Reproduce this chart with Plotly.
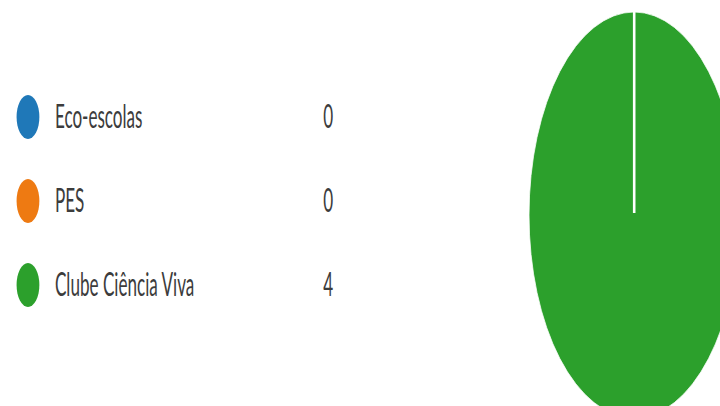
import math
import plotly.graph_objects as go

# ---- data ----
categories = ["Eco-escolas", "PES", "Clube Ciência Viva"]
values = [0, 0, 4]
colors = ["#1f78b8", "#ee7a12", "#2ca02c"]

# The reference is horizontally compressed; build at full width and squeeze.
K = 1.93                 # horizontal stretch factor
W, H = 1440, 430         # layout size before squeezing
CX, CY, R = 1224, 215, 203   # pie centre / radius in layout pixels

fig = go.Figure()

# pie
fig.add_trace(go.Pie(
    labels=categories, values=values, sort=False, direction="clockwise",
    rotation=0, textinfo="none", hoverinfo="label+value+percent",
    marker=dict(colors=colors, line=dict(color="white", width=1)),
    showlegend=False,
    domain=dict(x=[(CX - R) / W, (CX + R) / W],
                y=[1 - (CY + R) / H, 1 - (CY - R) / H]),
))

# slice borders (white radial lines at cumulative slice boundaries),
# drawn above the pie layer
total = sum(values)
bounds = set()
cum = 0
for v in values:
    bounds.add(round(cum / total % 1.0, 9))
    cum += v
shapes = []
for f in sorted(bounds):
    th = 2 * math.pi * f
    shapes.append(dict(
        type="line", xref="x", yref="y2", layer="above",
        x0=CX, y0=CY - 2, x1=CX + (R + 2) * math.sin(th), y1=CY - (R + 2) * math.cos(th),
        line=dict(color="white", width=5),
    ))

# custom legend: markers
fig.add_trace(go.Scatter(
    x=[54] * len(categories), y=categories, mode="markers",
    marker=dict(size=44, color=colors, line=dict(width=0)),
    hoverinfo="skip", showlegend=False, xaxis="x", yaxis="y",
))
# invisible trace to activate y2
fig.add_trace(go.Scatter(x=[None], y=[None], xaxis="x", yaxis="y2",
                         showlegend=False, hoverinfo="skip"))

annotations = []
for c, v in zip(categories, values):
    annotations.append(dict(
        x=104, y=c, xref="x", yref="y", text=c, showarrow=False,
        xanchor="left", yanchor="middle", yshift=2,
        font=dict(family="Lato", size=33, color="#3c3c3c"),
    ))
    annotations.append(dict(
        x=633, y=c, xref="x", yref="y", text=str(v), showarrow=False,
        xanchor="center", yanchor="middle", yshift=2,
        font=dict(family="Lato", size=33, color="#3c3c3c"),
    ))

fig.update_layout(
    width=W, height=H,
    margin=dict(l=0, r=0, t=0, b=0),
    paper_bgcolor="white", plot_bgcolor="rgba(0,0,0,0)",
    xaxis=dict(range=[0, W], visible=False, fixedrange=True),
    yaxis=dict(type="category", categoryorder="array", categoryarray=categories,
               range=[(H - 117) / 84, -117 / 84], visible=False, fixedrange=True),
    yaxis2=dict(range=[H, 0], overlaying="y", visible=False, fixedrange=True),
    annotations=annotations,
    shapes=shapes,
    font=dict(family="Lato"),
)

post = """
document.body.style.margin='0';
document.body.style.overflow='hidden';
document.documentElement.style.overflow='hidden';
var gd=document.getElementById('{plot_id}');
gd.style.transformOrigin='0 0';
gd.style.transform='scaleX(%f)';
""" % (1 / K)

fig.write_html("out.html", config={"displayModeBar": False}, post_script=post)
